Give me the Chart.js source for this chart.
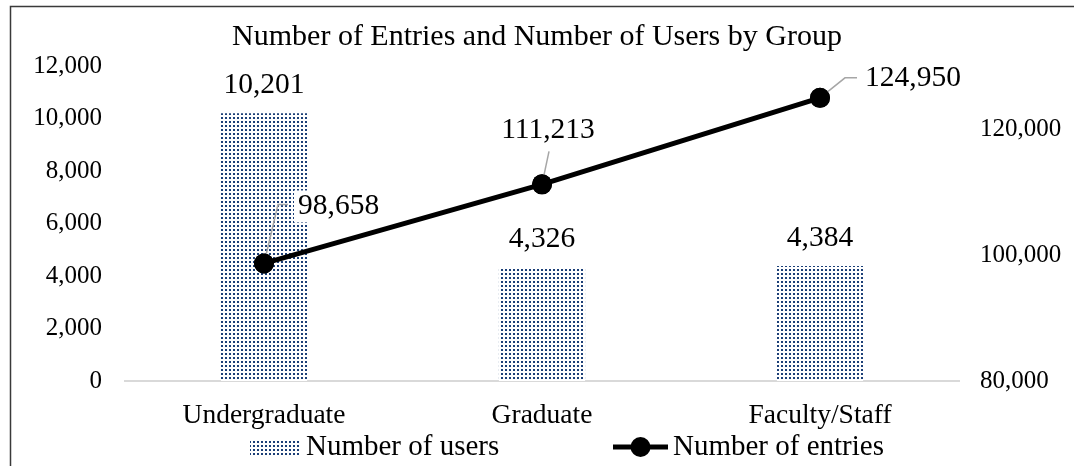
<!DOCTYPE html>
<html>
<head>
<meta charset="utf-8">
<script src="https://cdn.jsdelivr.net/npm/chart.js@4/dist/chart.umd.min.js"></script>
<style>
html,body{margin:0;padding:0;background:#fff;}
#wrap{width:1074px;height:466px;position:relative;}
</style>
</head>
<body>
<div id="wrap"><canvas id="c" width="1074" height="466"></canvas></div>
<script>
const categories = ['Undergraduate', 'Graduate', 'Faculty/Staff'];
const usersValues = [10201, 4326, 4384];
const entriesValues = [98658, 111213, 124950];
const leftTicks = [0, 2000, 4000, 6000, 8000, 10000, 12000];
const rightTicks = [80000, 100000, 120000];
const rightMax = 130000;
const titleText = 'Number of Entries and Number of Users by Group';
const usersLabel = 'Number of users';
const entriesLabel = 'Number of entries';

const FONT = "'Liberation Serif', 'DejaVu Serif', serif";
const BAR_BLUE = '#1b3f77';

function makePattern() {
  const pc = document.createElement('canvas');
  pc.width = 4; pc.height = 4;
  const g = pc.getContext('2d');
  g.fillStyle = '#ffffff';
  g.fillRect(0, 0, 4, 4);
  g.fillStyle = BAR_BLUE;
  g.fillRect(1, 1, 2, 2);
  return g.createPattern(pc, 'repeat');
}
const pattern = makePattern();
const fmt = v => Number(v).toLocaleString('en-US');

const framePlugin = {
  id: 'frame',
  beforeDraw(chart) {
    const ctx = chart.ctx;
    ctx.save();
    ctx.fillStyle = '#fff';
    ctx.fillRect(0, 0, chart.width, chart.height);
    ctx.strokeStyle = '#3a3a3a';
    ctx.lineWidth = 1.5;
    ctx.beginPath();
    ctx.moveTo(10.5, chart.height);
    ctx.lineTo(10.5, 6.5);
    ctx.lineTo(chart.width, 6.5);
    ctx.stroke();
    ctx.fillStyle = '#000';
    ctx.font = '30px ' + FONT;
    ctx.textAlign = 'center';
    ctx.textBaseline = 'middle';
    ctx.fillText(titleText, 537, 37);
    ctx.restore();
  }
};

const labelPlugin = {
  id: 'labels',
  afterDatasetsDraw(chart) {
    const ctx = chart.ctx;
    ctx.save();
    ctx.font = '29.5px ' + FONT;
    ctx.textBaseline = 'middle';
    const barMeta = chart.getDatasetMeta(0);
    barMeta.data.forEach((el, i) => {
      ctx.fillStyle = '#000';
      ctx.textAlign = 'center';
      ctx.fillText(fmt(usersValues[i]), el.x, el.y - 28);
    });
    const lineMeta = chart.getDatasetMeta(1);
    const specs = [
      {leader: [[0, 0], [14, -59], [24, -59]], tx: 34, ty: -57, align: 'left'},
      {leader: [[0, 0], [7, -33]], tx: 6, ty: -54, align: 'center'},
      {leader: [[0, 0], [25, -20], [37, -20]], tx: 45, ty: -20, align: 'left'}
    ];
    lineMeta.data.forEach((el, i) => {
      const s = specs[i];
      const txt = fmt(entriesValues[i]);
      const w = ctx.measureText(txt).width;
      let lx = el.x + s.tx;
      if (s.align === 'center') lx -= w / 2;
      const ly = el.y + s.ty;
      ctx.fillStyle = '#fff';
      ctx.fillRect(lx - 4, ly - 16, w + 8, 32);
      ctx.strokeStyle = '#a6a6a6';
      ctx.lineWidth = 1.5;
      ctx.beginPath();
      s.leader.forEach((p, k) => {
        if (k === 0) ctx.moveTo(el.x + p[0], el.y + p[1]);
        else ctx.lineTo(el.x + p[0], el.y + p[1]);
      });
      ctx.stroke();
      ctx.fillStyle = '#000';
      ctx.beginPath();
      ctx.arc(el.x, el.y, 10, 0, Math.PI * 2);
      ctx.fill();
      ctx.textAlign = 'left';
      ctx.fillText(txt, lx, ly);
    });
    ctx.restore();
  },
  afterDraw(chart) {
    const ctx = chart.ctx;
    ctx.save();
    ctx.fillStyle = pattern;
    ctx.fillRect(250, 439, 50, 16);
    ctx.fillStyle = '#000';
    ctx.font = '29px ' + FONT;
    ctx.textBaseline = 'middle';
    ctx.textAlign = 'left';
    ctx.fillText(usersLabel, 306, 447);
    ctx.strokeStyle = '#000';
    ctx.lineWidth = 5;
    ctx.beginPath();
    ctx.moveTo(613, 447);
    ctx.lineTo(668, 447);
    ctx.stroke();
    ctx.beginPath();
    ctx.arc(640.5, 447, 10, 0, Math.PI * 2);
    ctx.fill();
    ctx.fillText(entriesLabel, 673, 447);
    ctx.restore();
  }
};

new Chart(document.getElementById('c'), {
  data: {
    labels: categories,
    datasets: [
      {
        type: 'bar',
        label: usersLabel,
        data: usersValues,
        yAxisID: 'y',
        backgroundColor: pattern,
        borderWidth: 0,
        categoryPercentage: 1,
        barPercentage: 0.31,
        order: 2
      },
      {
        type: 'line',
        label: entriesLabel,
        data: entriesValues,
        yAxisID: 'y1',
        borderColor: '#000',
        borderWidth: 5,
        backgroundColor: '#000',
        pointRadius: 10,
        pointBackgroundColor: '#000',
        pointBorderWidth: 0,
        tension: 0,
        fill: false,
        order: 1
      }
    ]
  },
  options: {
    responsive: false,
    animation: false,
    events: [],
    layout: {padding: {left: 10, right: 10, top: 66, bottom: 35}},
    plugins: {legend: {display: false}, tooltip: {enabled: false}, title: {display: false}},
    scales: {
      x: {
        grid: {display: false, drawTicks: false},
        border: {display: true, color: '#d9d9d9', width: 2},
        ticks: {color: '#000', font: {family: FONT, size: 27.5}, padding: 18},
        afterFit(s) { s.height = 50; }
      },
      y: {
        position: 'left',
        min: leftTicks[0], max: leftTicks[leftTicks.length - 1],
        grid: {display: false, drawTicks: false},
        border: {display: false},
        afterBuildTicks(s) { s.ticks = leftTicks.map(v => ({value: v})); },
        ticks: {autoSkip: false, color: '#000', font: {family: FONT, size: 25}, padding: 23,
                callback: v => fmt(v)},
        afterFit(s) { s.width = 115; }
      },
      y1: {
        position: 'right',
        min: rightTicks[0], max: rightMax,
        grid: {display: false, drawTicks: false},
        border: {display: false},
        afterBuildTicks(s) { s.ticks = rightTicks.map(v => ({value: v})); },
        ticks: {autoSkip: false, color: '#000', font: {family: FONT, size: 25}, padding: 21,
                callback: v => fmt(v)},
        afterFit(s) { s.width = 105; }
      }
    }
  },
  plugins: [framePlugin, labelPlugin]
});
</script>
</body>
</html>
